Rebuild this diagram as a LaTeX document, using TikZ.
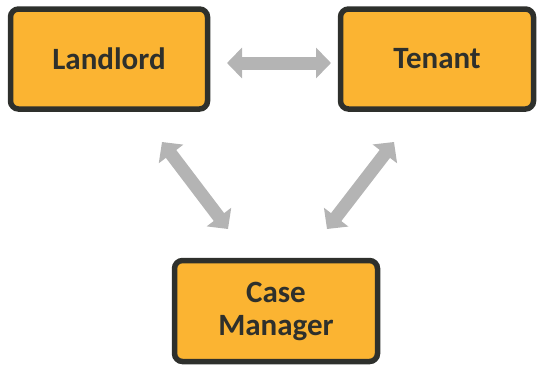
\documentclass[tikz,border=0pt]{standalone}
\usepackage{fontspec}
\setmainfont{Carlito}
\usetikzlibrary{arrows.meta}
\definecolor{boxfill}{HTML}{FBB432}
\definecolor{boxline}{HTML}{2E302C}
\definecolor{arrowgray}{HTML}{B4B4B4}
\tikzset{
  rolebox/.style={draw=boxline, line width=5.5pt, fill=boxfill, rounded corners=8pt,
    font=\bfseries\fontsize{31}{33}\selectfont, text=boxline, align=center, inner sep=0pt},
  twoway/.style={draw=arrowgray, line width=13pt,
    {Triangle[length=15pt 0 0, width=30pt 0 0]}-{Triangle[length=15pt 0 0, width=30pt 0 0]}}
}
\begin{document}
\begin{tikzpicture}[x=1pt,y=-1pt]
\useasboundingbox (0,0) rectangle (543,365);
\node[rolebox, minimum width=197pt, minimum height=100pt] (land) at (109,59) {Landlord};
\node[rolebox, minimum width=193pt, minimum height=100pt] (ten) at (437,59) {Tenant};
\node[rolebox, minimum width=203pt, minimum height=101pt] (cm) at (276,311) {Case\\Manager};
\coordinate (h1) at (227,63);
\coordinate (h2) at (331,63);
\coordinate (l1) at (162,142);
\coordinate (l2) at (228,229);
\coordinate (r1) at (394,142);
\coordinate (r2) at (327,229);
\draw[twoway] (h1) -- (h2);
\draw[twoway] (l1) -- (l2);
\draw[twoway] (r1) -- (r2);
\end{tikzpicture}
\end{document}
